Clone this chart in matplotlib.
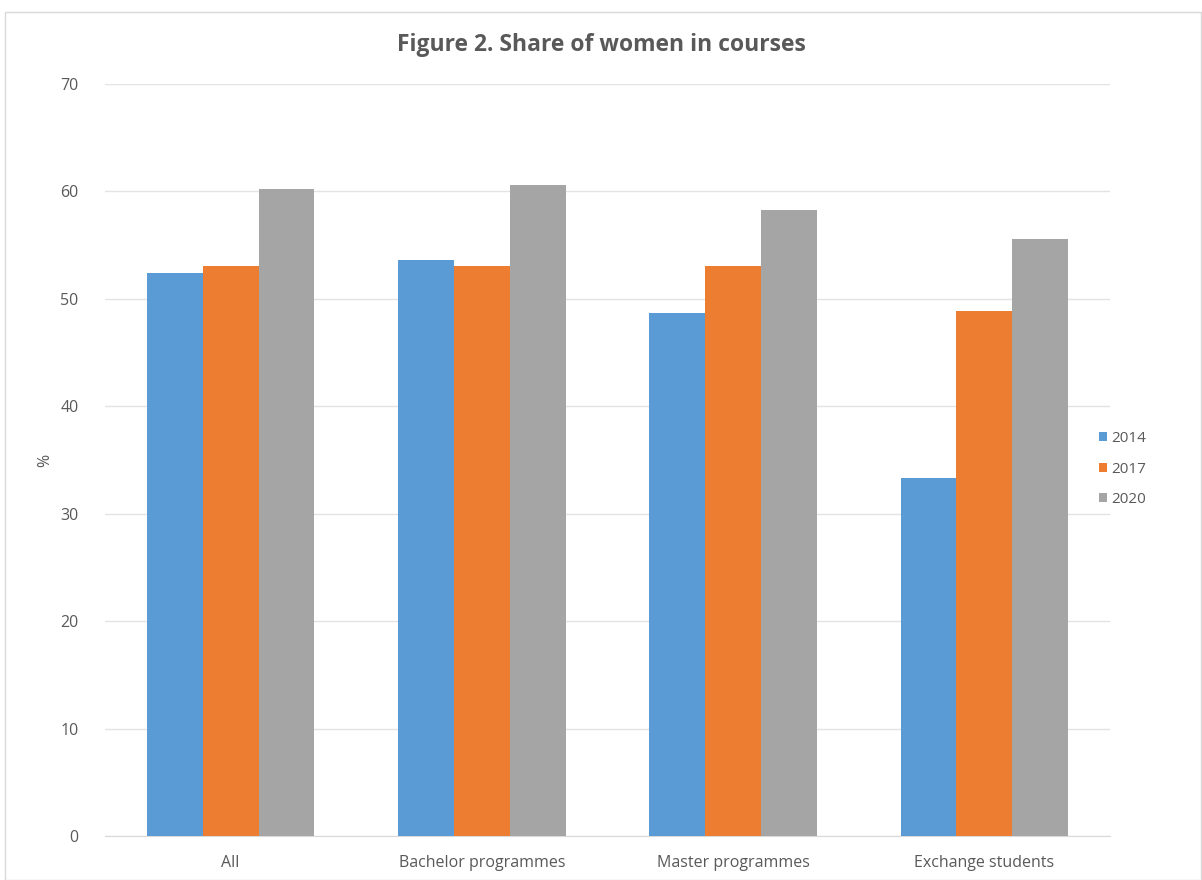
import matplotlib
matplotlib.use("Agg")
import matplotlib.pyplot as plt
import numpy as np
from matplotlib.patches import Rectangle

categories = ["All", "Bachelor programmes", "Master programmes", "Exchange students"]
years = ["2014", "2017", "2020"]
v2014 = [52.4, 53.6, 48.7, 33.3]
v2017 = [53.1, 53.1, 53.1, 48.9]
v2020 = [60.2, 60.6, 58.3, 55.6]
colors = ["#5B9BD5", "#ED7D31", "#A5A5A5"]
yticks = [0, 10, 20, 30, 40, 50, 60, 70]

plt.rcParams['font.family'] = ['Open Sans', 'DejaVu Sans']
fig = plt.figure(figsize=(12.02, 8.80), dpi=100)
fig.patches.append(Rectangle((0.004, 0.0), 0.995, 0.986, transform=fig.transFigure,
                             fill=False, edgecolor="#d9d9d9", linewidth=1.0))
ax = fig.add_axes([0.0874, 0.05, 0.836, 0.8545])

x = np.arange(len(categories))
w = 0.222
for i, (vals, c, lab) in enumerate(zip([v2014, v2017, v2020], colors, years)):
    ax.bar(x + (i - 1) * w, vals, width=w, color=c, label=lab, zorder=3)

ax.set_xlim(-0.5, len(categories) - 0.5)
ax.set_ylim(0, 70)
ax.set_yticks(yticks)
ax.set_xticks(x)
ax.set_xticklabels(categories)
ax.grid(axis="y", color="#e3e3e3", linewidth=1.0, zorder=0)
for s in ["top", "right", "left"]:
    ax.spines[s].set_visible(False)
ax.spines["bottom"].set_color("#d9d9d9")
ax.tick_params(axis="both", length=0, colors="#595959", labelsize=11.5)
ax.tick_params(axis="y", pad=19)
ax.tick_params(axis="x", pad=14)
ax.set_ylabel("%", color="#595959", fontsize=11.5, labelpad=5)

fig.text(0.5, 0.949, "Figure 2. Share of women in courses", ha="center", va="center",
         fontsize=16.5, fontweight="bold", color="#595959")

leg = ax.legend(loc="center left", bbox_to_anchor=(0.975, 0.488), frameon=False,
                fontsize=11, handlelength=0.55, handleheight=0.55, handletextpad=0.3,
                labelspacing=1.0, labelcolor="#595959")

fig.savefig("out.png", dpi=100)
